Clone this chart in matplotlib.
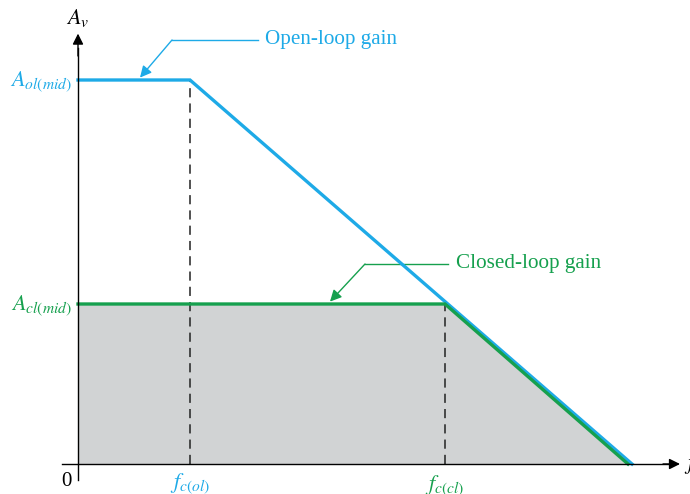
import matplotlib.pyplot as plt
import matplotlib as mpl

mpl.rcParams['mathtext.fontset'] = 'stix'
mpl.rcParams['font.family'] = 'Liberation Serif'

# gain vs frequency (arbitrary units)
A_ol = 2.4       # open-loop midrange gain
A_cl = 1.0       # closed-loop midrange gain
f_ol = 1.12      # open-loop critical frequency
f_cl = 3.67      # closed-loop critical frequency
f_t = 5.54       # frequency where gain reaches zero on the sketch

open_f = [0, f_ol, f_t]
open_A = [A_ol, A_ol, 0]
closed_f = [0, f_cl, f_t - 0.04]
closed_A = [A_cl, A_cl, 0]

blue = '#1eaae7'
green = '#16a04e'
gray = '#d1d3d4'

fig = plt.figure(figsize=(6.9, 4.94), dpi=100)
ax = fig.add_axes([0, 0, 1, 1])
ax.set_xlim(-0.78, 6.12)
ax.set_ylim(-0.1875, 2.9)
ax.axis('off')

# shaded bandwidth area under closed-loop response
ax.fill_between(closed_f, closed_A, 0, color=gray, lw=0, zorder=1)

# dashed drop lines at critical frequencies
ax.plot([f_ol, f_ol], [0, A_ol], color='#222222', lw=1.1, ls=(0, (6, 4)), zorder=2)
ax.plot([f_cl, f_cl], [0, A_cl], color='#222222', lw=1.1, ls=(0, (6, 4)), zorder=2)

ax.plot(open_f, open_A, color=blue, lw=2.4, solid_joinstyle='miter', zorder=3)
ax.plot(closed_f, closed_A, color=green, lw=2.4, solid_joinstyle='miter', zorder=4)

# axes with arrows
ax.plot([0, 0], [-0.1, 2.6], color='black', lw=1, zorder=5)
ax.plot([-0.16, 5.95], [0, 0], color='black', lw=1, zorder=5)
ax.annotate('', xy=(0, 2.69), xytext=(0, 2.55),
            arrowprops=dict(arrowstyle='-|>', color='black', lw=1,
                            mutation_scale=16, shrinkA=0, shrinkB=0))
ax.annotate('', xy=(6.02, 0), xytext=(5.85, 0),
            arrowprops=dict(arrowstyle='-|>', color='black', lw=1,
                            mutation_scale=16, shrinkA=0, shrinkB=0))

# callouts
ax.plot([0.94, 1.80], [2.65, 2.65], color=blue, lw=1)
ax.annotate('', xy=(0.62, 2.415), xytext=(0.94, 2.65),
            arrowprops=dict(arrowstyle='-|>', color=blue, lw=1,
                            mutation_scale=17, shrinkA=0, shrinkB=0))
ax.text(1.87, 2.655, 'Open-loop gain', color=blue, fontsize=15.2,
        va='center', ha='left')

ax.plot([2.87, 3.70], [1.25, 1.25], color=green, lw=1)
ax.annotate('', xy=(2.52, 1.015), xytext=(2.87, 1.25),
            arrowprops=dict(arrowstyle='-|>', color=green, lw=1,
                            mutation_scale=17, shrinkA=0, shrinkB=0))
ax.text(3.78, 1.255, 'Closed-loop gain', color=green, fontsize=15.2,
        va='center', ha='left')

# labels
ax.text(0.0, 2.79, r'$A_v$', color='black', fontsize=16, ha='center', va='center')
ax.text(-0.06, 2.39, r'$A_{ol(mid)}$', color=blue, fontsize=16, ha='right', va='center')
ax.text(-0.06, 0.99, r'$A_{cl(mid)}$', color=green, fontsize=16, ha='right', va='center')
ax.text(-0.12, -0.11, '0', color='black', fontsize=15, ha='center', va='center')
ax.text(f_ol, -0.125, r'$f_{c(ol)}$', color=blue, fontsize=16, ha='center', va='center')
ax.text(f_cl, -0.135, r'$f_{c(cl)}$', color=green, fontsize=16, ha='center', va='center')
ax.text(6.06, 0.0, r'$f$', color='black', fontsize=16, ha='left', va='center')

fig.savefig('out.png', dpi=100)
